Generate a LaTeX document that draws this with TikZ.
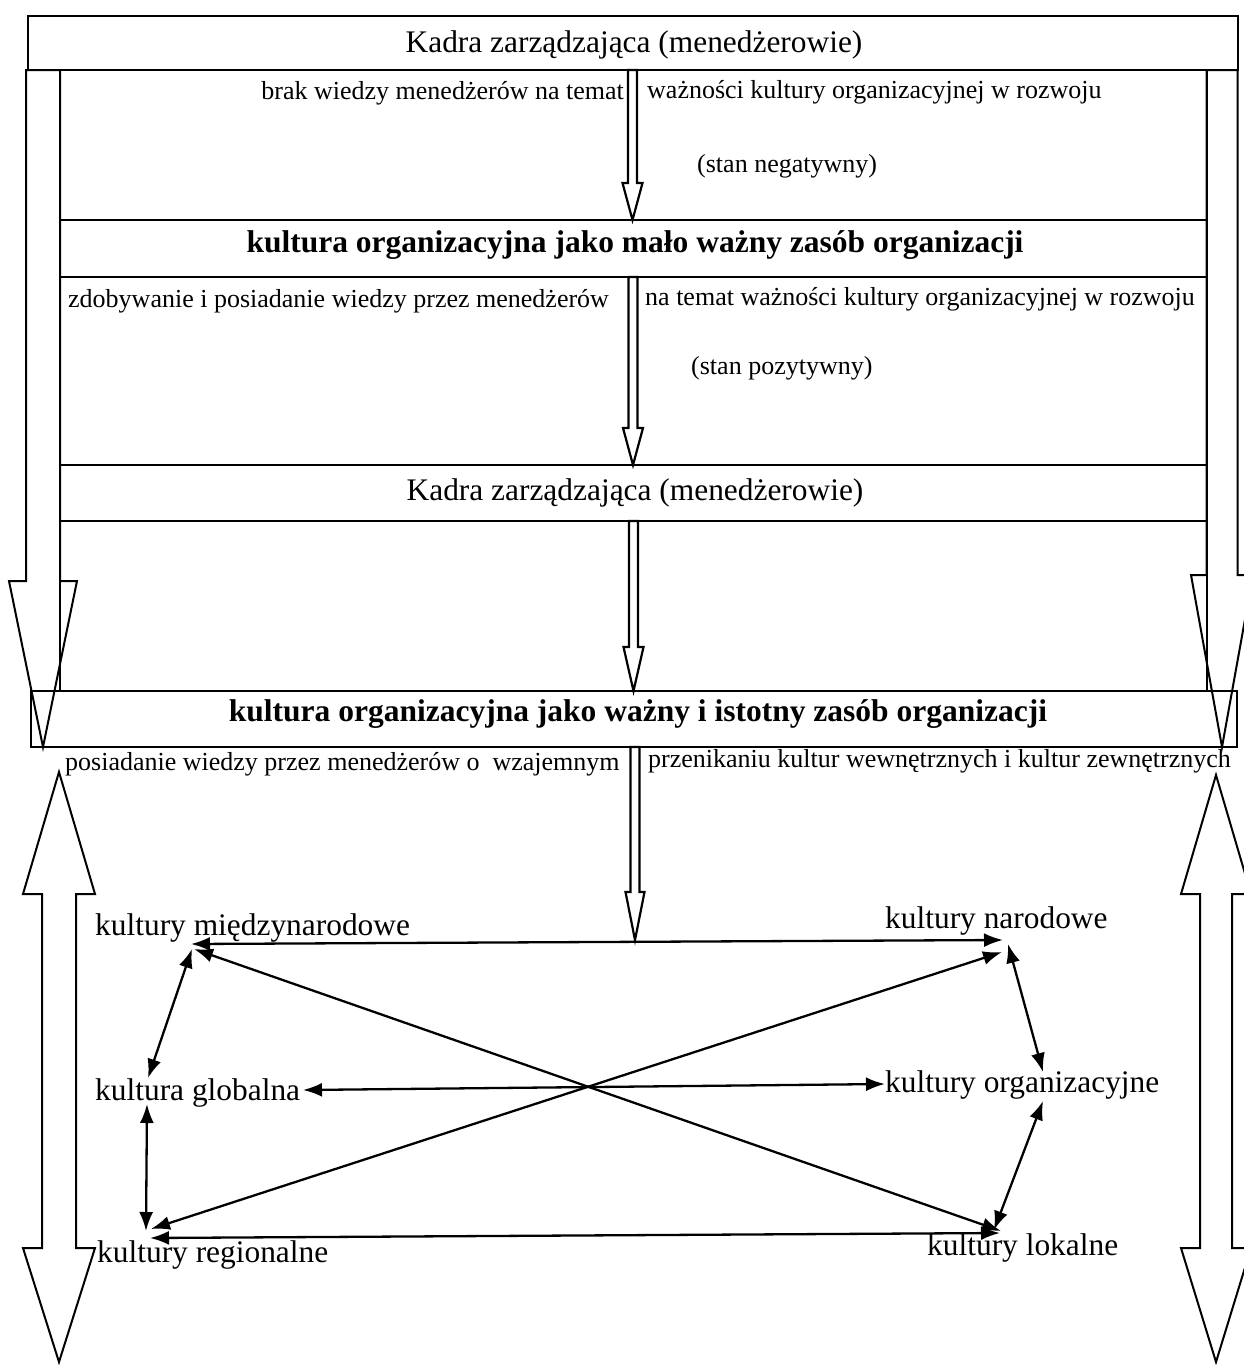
\documentclass[tikz,border=0pt]{standalone}
\usepackage{fontspec}
\setmainfont{Liberation Serif}
\usetikzlibrary{arrows.meta}
% x, ytop, ybase, ytip, shafthalf, headhalf
\newcommand{\hdownarrow}[7][hollow]{%
  \draw[#1] ({#2-#6},#3) -- ({#2-#6},#4) -- ({#2-#7},#4) -- (#2,#5) -- ({#2+#7},#4) -- ({#2+#6},#4) -- ({#2+#6},#3) -- cycle;}
% x, ytip1, ybase1, ybase2, ytip2, shafthalf, headhalf
\newcommand{\hdblarrow}[7]{%
  \draw[hollow] (#1,#2) -- ({#1+#7},#3) -- ({#1+#6},#3) -- ({#1+#6},#4) -- ({#1+#7},#4) -- (#1,#5) -- ({#1-#7},#4) -- ({#1-#6},#4) -- ({#1-#6},#3) -- ({#1-#7},#3) -- cycle;}
\begin{document}
\begin{tikzpicture}[x=1pt,y=-1pt,
  box/.style={draw, line width=1.4pt, inner sep=0pt},
  hollow/.style={draw, line width=2pt, line join=miter},
  thinhollow/.style={draw, line width=2.2pt, line join=miter},
  big/.style={font=\fontsize{31.4}{36}\selectfont, inner sep=0pt},
  small/.style={font=\fontsize{26}{30}\selectfont, inner sep=0pt},
  boldt/.style={font=\fontsize{31.5}{36}\selectfont\bfseries, inner sep=0pt},
  net/.style={line width=2.3pt, {Latex[length=19pt,width=14pt]}-{Latex[length=19pt,width=14pt]}}
]
\useasboundingbox (0,0) rectangle (1244,1365);

% boxes
\node[box, minimum width=1210pt, minimum height=54pt] (top) at (633,43) {};
\node[box, minimum width=1147pt, minimum height=150pt] (r1) at (633.5,145) {};
\node[box, minimum width=1147pt, minimum height=57pt] (r2) at (633.5,248.5) {};
\node[box, minimum width=1147pt, minimum height=188pt] (r3) at (633.5,371) {};
\node[box, minimum width=1147pt, minimum height=56pt] (r4) at (633.5,493) {};
\node[box, minimum width=1147pt, minimum height=170pt] (r5) at (633.5,606) {};
\node[box, minimum width=1206pt, minimum height=56pt] (r6) at (634,719) {};

% texts
\node[big, anchor=base] (toptxt) at (634,52) {Kadra zarządzająca (menedżerowie)};
\node[small, anchor=base east] (t1a) at (624,99) {brak wiedzy menedżerów na temat};
\node[small, anchor=base west] (t1b) at (647,98) {ważności kultury organizacyjnej w rozwoju};
\node[small, anchor=base west] (t1c) at (697,172) {(stan negatywny)};
\node[boldt, anchor=base] (t2) at (635,252) {kultura organizacyjna jako mało ważny zasób organizacji};
\node[small, anchor=base west] (t3a) at (68,307) {zdobywanie i posiadanie wiedzy przez menedżerów};
\node[small, anchor=base west] (t3b) at (645,305) {na temat ważności kultury organizacyjnej w rozwoju};
\node[small, anchor=base west] (t3c) at (691,374) {(stan pozytywny)};
\node[big, anchor=base] (t4) at (635,500) {Kadra zarządzająca (menedżerowie)};
\node[boldt, anchor=base] (t6) at (638,721) {kultura organizacyjna jako ważny i istotny zasób organizacji};
\node[small, anchor=base west] (t7a) at (65,770) {posiadanie wiedzy przez menedżerów o\ \ wzajemnym};
\node[small, anchor=base west] (t7b) at (648,767) {przenikaniu kultur wewnętrznych i kultur zewnętrznych};

% big side arrows (top part)
\hdownarrow{43}{70}{581}{747}{17}{34}
\hdownarrow{1222}{70}{575}{747}{15.5}{31}

% narrow centre arrows
\hdownarrow[thinhollow]{632.5}{70}{183}{220}{4.5}{10}
\hdownarrow[thinhollow]{633}{277}{428}{465}{4.5}{10}
\hdownarrow[thinhollow]{633.5}{521}{647}{691}{4.5}{10}
\hdownarrow[thinhollow]{635}{747}{892}{940}{4.5}{9.5}

% bottom double arrows
\hdblarrow{59}{772}{894}{1248}{1362}{17}{36}
\hdblarrow{1216}{775}{894}{1248}{1362}{16}{35}

% network labels
\node[big, anchor=base west] (mi) at (95,935) {kultury międzynarodowe};
\node[big, anchor=base west] (na) at (885,928) {kultury narodowe};
\node[big, anchor=base west] (gl) at (95,1100) {kultura globalna};
\node[big, anchor=base west] (or) at (885,1092) {kultury organizacyjne};
\node[big, anchor=base west] (re) at (97,1262) {kultury regionalne};
\node[big, anchor=base west] (lo) at (927,1255) {kultury lokalne};

% connector ends
\coordinate (miA) at (191,944);
\coordinate (miB) at (194,949);
\coordinate (miC) at (192,949);
\coordinate (naA) at (1003,940);
\coordinate (naB) at (1002,952);
\coordinate (naC) at (1008,944);
\coordinate (glA) at (303,1090);
\coordinate (glB) at (148,1078);
\coordinate (glC) at (147,1104);
\coordinate (orA) at (885,1084);
\coordinate (orB) at (1043,1072);
\coordinate (orC) at (1043,1101);
\coordinate (reA) at (151,1229);
\coordinate (reB) at (150,1238);
\coordinate (reC) at (146,1231);
\coordinate (loA) at (1001,1231);
\coordinate (loB) at (1000,1233);
\coordinate (loC) at (994,1230);

\draw[net] (miA) -- (naA);
\draw[net] (miB) -- (loA);
\draw[net] (reA) -- (naB);
\draw[net] (glA) -- (orA);
\draw[net] (reB) -- (loB);
\draw[net] (miC) -- (glB);
\draw[net] (glC) -- (reC);
\draw[net] (naC) -- (orB);
\draw[net] (orC) -- (loC);
\end{tikzpicture}
\end{document}
